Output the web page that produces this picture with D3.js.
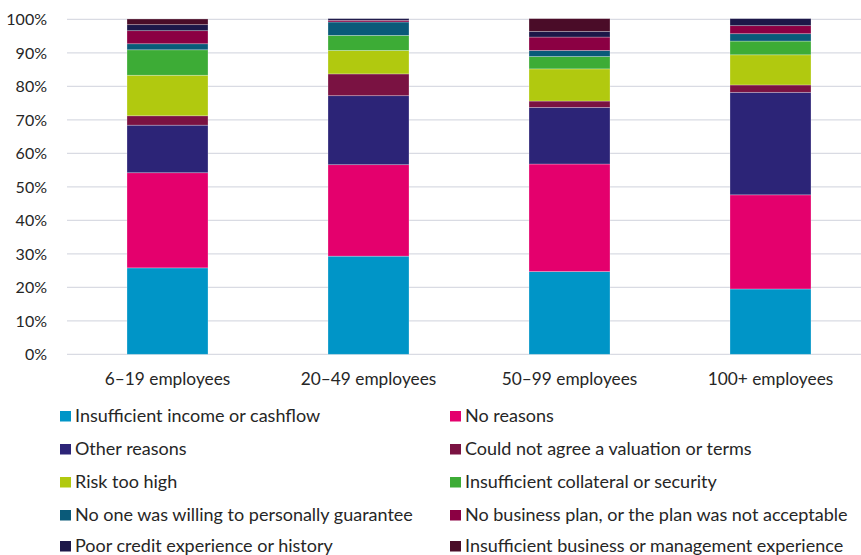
<!DOCTYPE html>
<html>
<head>
<meta charset="utf-8">
<script src="https://cdn.jsdelivr.net/npm/d3@7"></script>
<style>
  html, body { margin: 0; padding: 0; background: #fff; }
  svg { display: block; }
  text { font-family: Lato, "Open Sans", sans-serif; fill: #262626; }
</style>
</head>
<body>
<svg id="chart" width="861" height="555"></svg>
<script>
// Company size bands (x axis)
const categories = ["6–19 employees", "20–49 employees", "50–99 employees", "100+ employees"];

// Reasons, stacked bottom to top, in percent of each band
const reasons = [
  "Insufficient income or cashflow",
  "No reasons",
  "Other reasons",
  "Could not agree a valuation or terms",
  "Risk too high",
  "Insufficient collateral or security",
  "No one was willing to personally guarantee",
  "No business plan, or the plan was not acceptable",
  "Poor credit experience or history",
  "Insufficient business or management experience"
];

const insufficientIncome   = [25.8, 29.3, 24.7, 19.5];
const noReasons            = [28.4, 27.3, 32.1, 28.1];
const otherReasons         = [14.2, 20.6, 16.9, 30.6];
const couldNotAgree        = [2.8, 6.5, 1.9, 2.2];
const riskTooHigh          = [12.1, 7.0, 9.6, 9.0];
const insufficientCollat   = [7.6, 4.5, 3.7, 4.1];
const noGuarantor          = [1.8, 4.0, 1.8, 2.2];
const noBusinessPlan       = [3.9, 0.5, 4.0, 2.4];
const poorCredit           = [1.8, 0.5, 1.7, 2.1];
const insufficientMgmt     = [1.7, 0.0, 3.8, 0.0];

const seriesValues = [
  insufficientIncome, noReasons, otherReasons, couldNotAgree, riskTooHigh,
  insufficientCollat, noGuarantor, noBusinessPlan, poorCredit, insufficientMgmt
];

const colors = [
  "#0095c7", "#e4006d", "#2c2477", "#7a1242", "#b1c90f",
  "#3dac36", "#0a5a79", "#8b0043", "#1c1748", "#4a0c28"
];

const yTicks = [0, 10, 20, 30, 40, 50, 60, 70, 80, 90, 100];

// Build rows for d3.stack
const rows = categories.map((c, i) => {
  const r = { category: c };
  reasons.forEach((k, j) => { r[k] = seriesValues[j][i]; });
  return r;
});

const svg = d3.select("#chart");
const W = 861, H = 555;
const plotLeft = 67, plotTop = 19.3, plotBottom = 354.3;

const x = d3.scaleBand()
  .domain(categories)
  .range([66.7, 871.3])
  .paddingInner(0.597)
  .paddingOuter(0.3);

const y = d3.scaleLinear()
  .domain([0, 100])
  .range([plotBottom, plotTop]);

// Gridlines
svg.append("g")
  .selectAll("line")
  .data(yTicks)
  .join("line")
  .attr("x1", plotLeft)
  .attr("x2", W)
  .attr("y1", d => y(d))
  .attr("y2", d => y(d))
  .attr("stroke", "#d9dbe3")
  .attr("stroke-width", 1.3);

// Y axis labels
const yAxis = d3.axisLeft(y)
  .tickValues(yTicks)
  .tickFormat(d => d + "%")
  .tickSize(0)
  .tickPadding(0);

const gy = svg.append("g")
  .attr("transform", `translate(47,0)`)
  .call(yAxis);
gy.select(".domain").remove();
gy.selectAll("text")
  .style("font-size", "16px")
  .style("font-family", "Lato, sans-serif")
  .attr("fill", "#262626")
  .attr("dy", "0.34em");

// Stacked bars
const stack = d3.stack().keys(reasons);
const stacked = stack(rows);

svg.append("g")
  .selectAll("g")
  .data(stacked)
  .join("g")
  .attr("fill", (d, i) => colors[i])
  .selectAll("rect")
  .data(d => d)
  .join("rect")
  .attr("x", d => x(d.data.category))
  .attr("width", x.bandwidth())
  .attr("y", d => y(d[1]))
  .attr("height", d => Math.max(0, y(d[0]) - y(d[1])))
  .attr("stroke", "#ffffff")
  .attr("stroke-opacity", 0.35)
  .attr("stroke-width", 0.75);

// X axis labels
const xAxis = d3.axisBottom(x).tickSize(0).tickPadding(0);
const gx = svg.append("g")
  .attr("transform", `translate(0,${y(0)})`)
  .call(xAxis);
gx.select(".domain").remove();
gx.selectAll("text")
  .style("font-size", "17.3px")
  .style("font-family", "Lato, sans-serif")
  .attr("fill", "#262626")
  .attr("y", 25)
  .attr("dy", "0.34em");

// Legend in two columns
const legendCols = [60, 450];
const legendRowY = [416, 449, 482, 515, 546];
const legend = svg.append("g")
  .selectAll("g")
  .data(reasons)
  .join("g")
  .attr("transform", (d, i) => `translate(${legendCols[i % 2]},${legendRowY[Math.floor(i / 2)]})`);

legend.append("rect")
  .attr("x", 0)
  .attr("y", -5)
  .attr("width", 11)
  .attr("height", 10.5)
  .attr("fill", (d, i) => colors[i]);

legend.append("text")
  .attr("x", 15)
  .attr("y", 0)
  .attr("dy", "0.35em")
  .style("font-size", "18px")
  .text(d => d);
</script>
</body>
</html>
